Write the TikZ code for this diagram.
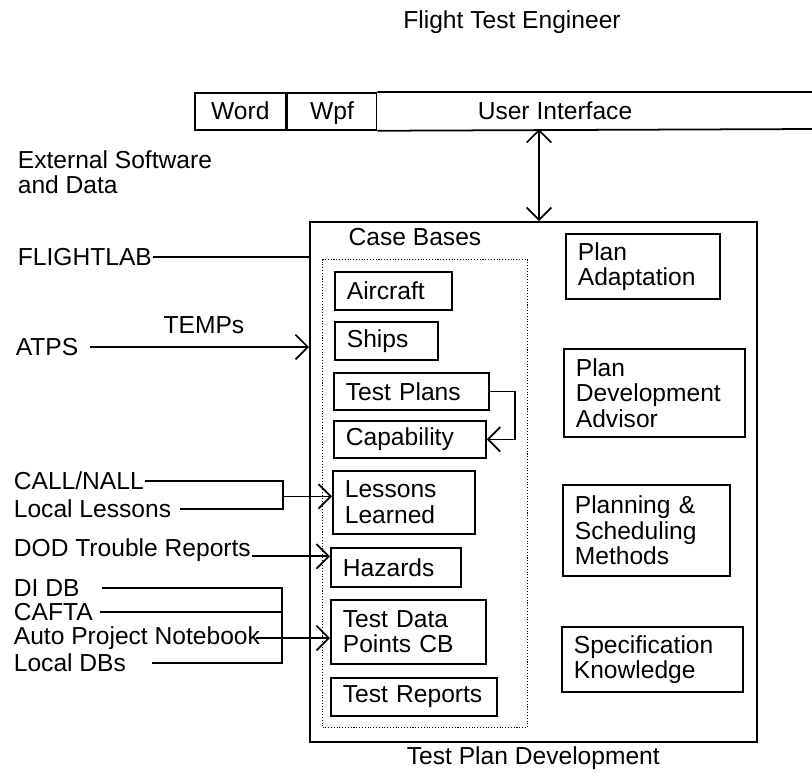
\documentclass[tikz,border=0pt]{standalone}
\usepackage{fontspec}
\setmainfont{Liberation Sans}
\usetikzlibrary{arrows.meta}

\begin{document}
\begin{tikzpicture}
  [x=0.02cm,y=-0.02cm,
   line width=1pt,
   >={Straight Barb[length=7pt,width=14pt]},
   every node/.style={font=\fontsize{14}{14.5}\selectfont},
   cb/.style={draw,anchor=north west,align=left,inner xsep=0.24cm,inner ysep=0pt},
   src/.style={anchor=west,inner sep=0pt,align=left}]
\useasboundingbox (0,0) rectangle (812,772);

\path
    (512,22) node (fte) {Flight Test Engineer}
    (555,111) node (ui) {User Interface}
    (17,172) node [src] (ext) {External Software\\and Data};
\path
    [minimum height=0.74cm,anchor=north west,inner xsep=0pt,
     text height=2ex,text depth=0.2ex]
    (194,92) node [draw,minimum width=1.82cm] (word) {Word}
    (word.north east) node [draw,minimum width=1.78cm] (wpf) {Wpf};
\draw
    (wpf.north east) -- (812,92)
    (wpf.south east) -- (812,129);

\path
    [anchor=north west]
    (309,221) node [draw,minimum width=8.94cm,minimum height=10.4cm] (tpd) {}
    (322,259) node [draw,densely dotted,line width=0.6pt,minimum width=4.1cm,
        minimum height=9.36cm] (cbases) {}
    (415,237) node [anchor=center] (cbtitle) {Case Bases}
    (tpd.south) node [anchor=north,inner sep=2pt] (tpdtitle) {Test Plan Development};

\path
    (334,271) node [cb,text width=1.86cm,minimum height=0.76cm] (aircraft) {Aircraft}
    (334,321) node [cb,text width=1.58cm,minimum height=0.76cm] (ships) {Ships}
    (333,372) node [cb,text width=2.62cm,minimum height=0.74cm] (plans) {Test Plans}
    (333,420) node [cb,text width=2.56cm,minimum height=0.74cm] (capability) {Capability}
    (332,470) node [cb,text width=2.36cm,minimum height=1.26cm] (lessons) {Lessons\\Learned}
    (330,547) node [cb,text width=2.12cm,minimum height=0.78cm] (hazards) {Hazards}
    (330,599) node [cb,text width=2.62cm,minimum height=1.28cm] (points) {Test Data\\Points CB}
    (330,677) node [cb,text width=2.84cm,minimum height=0.76cm] (reports) {Test Reports};
\path
    (565,233) node [cb,text width=2.6cm,minimum height=1.3cm] (adapt) {Plan\\Adaptation}
    (563,348) node [cb,text width=3.14cm,minimum height=1.76cm] (advisor)
        {Plan\\Development\\Advisor}
    (562,484) node [cb,text width=2.86cm,minimum height=1.82cm] (sched)
        {Planning \&\\Scheduling\\Methods}
    (561,626) node [cb,text width=3.14cm,minimum height=1.3cm] (spec)
        {Specification\\Knowledge};

\path
    [src]
    (17,257) node (flightlab) {FLIGHTLAB}
    (15,347) node (atps) {ATPS}
    (13,481) node (callnall) {CALL/NALL}
    (13,509) node (loclessons) {Local Lessons}
    (13,550) node (dod) {DOD Trouble Reports}
    (13,588) node (didb) {DI DB}
    (13,612) node (cafta) {CAFTA}
    (13,638) node (apn) {Auto Project Notebook}
    (13,663) node (localdb) {Local DBs};

\coordinate (uiport) at (539,129);
\coordinate (llbus) at (283,0);
\coordinate (dbbus) at (282,0);

\draw [<->] (uiport) -- (uiport |- tpd.north);
\draw [->] (plans.east) -- ++(25,0) |- (capability.east);

\draw (flightlab.east) -- (flightlab.east -| tpd.west);
\draw [->] ([xshift=0.22cm]atps.east) -- (atps.east -| tpd.west)
    node [pos=0.52,above=4pt] (temps) {TEMPs};
\draw
    (callnall.east) -| (loclessons.east -| llbus) -- ([xshift=0.16cm]loclessons.east);
\draw [->] ([yshift=0.12cm]lessons.west -| llbus) -- ([yshift=0.12cm]lessons.west);
\draw [->] (dod.base east) -- (dod.base east -| hazards.west);
\draw
    ([xshift=0.44cm]didb.east) -- (didb.east -| dbbus) -- (localdb.east -| dbbus)
    -- ([xshift=0.5cm]localdb.east)
    ([xshift=0.12cm]cafta.east) -- (cafta.east -| dbbus);
\draw [->] ([xshift=-0.1cm]apn.east) -- (apn.east -| points.west);
\end{tikzpicture}
\end{document}
